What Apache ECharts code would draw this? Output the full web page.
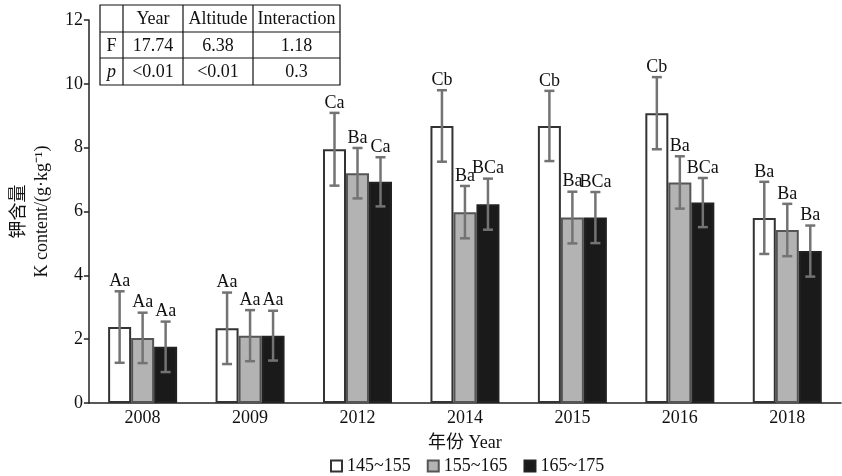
<!DOCTYPE html>
<html>
<head>
<meta charset="utf-8">
<script src="https://cdn.jsdelivr.net/npm/echarts@6/dist/echarts.min.js"></script>
<style>html,body{margin:0;padding:0;background:#fff}#c{width:842px;height:476px}</style>
</head>
<body>
<div id="c"></div>
<script>
var categories = ['2008','2009','2012','2014','2015','2016','2018'];
var seriesNames = ['145~155','155~165','165~175'];
var mean1 = [2.38, 2.34, 7.95, 8.68, 8.68, 9.08, 5.80];
var sd1   = [1.12, 1.12, 1.14, 1.12, 1.10, 1.13, 1.13];
var mean2 = [2.04, 2.11, 7.20, 5.98, 5.81, 6.91, 5.42];
var sd2   = [0.79, 0.80, 0.79, 0.82, 0.81, 0.82, 0.82];
var mean3 = [1.76, 2.11, 6.93, 6.23, 5.81, 6.28, 4.76];
var sd3   = [0.79, 0.78, 0.77, 0.80, 0.80, 0.77, 0.80];
var letters1 = ['Aa','Aa','Ca','Cb','Cb','Cb','Ba'];
var letters2 = ['Aa','Aa','Ba','Ba','Ba','Ba','Ba'];
var letters3 = ['Aa','Aa','Ca','BCa','BCa','BCa','Ba'];
var yTicks = [0, 2, 4, 6, 8, 10, 12];
var tableHeader = ['', 'Year', 'Altitude', 'Interaction'];
var tableF = ['F', '17.74', '6.38', '1.18'];
var tableP = ['p', '<0.01', '<0.01', '0.3'];

var SERIF = '"Liberation Serif","Times New Roman",serif';
var CJK = '"Noto Sans CJK SC",sans-serif';
var BW = 23;

var means = [mean1, mean2, mean3];
var sds = [sd1, sd2, sd3];
var letters = [letters1, letters2, letters3];
var fills = ['#ffffff', '#b3b3b3', '#1a1a1a'];
var borders = ['#333333', '#555555', '#222222'];

var series = [];
for (var k = 0; k < 3; k++) {
  series.push({
    name: seriesNames[k], type: 'bar', barWidth: BW, barGap: '0%',
    data: means[k],
    itemStyle: {color: fills[k], borderColor: borders[k], borderWidth: 2},
    emphasis: {disabled: true}
  });
}
for (var k2 = 0; k2 < 3; k2++) {
  (function (k) {
    var data = categories.map(function (c, i) { return [i, means[k][i], sds[k][i]]; });
    series.push({
      name: 'err' + k, type: 'custom', z: 10,
      data: data, encode: {x: 0, y: 1},
      renderItem: function (params, api) {
        var i = api.value(0), m = api.value(1), s = api.value(2);
        var off = (k - 1) * BW;
        var top = api.coord([i, m + s]);
        var bot = api.coord([i, m - s]);
        var x = top[0] + off;
        var cw = 5;
        var st = {stroke: '#737373', lineWidth: 2.5};
        return {type: 'group', children: [
          {type: 'line', shape: {x1: x, y1: top[1], x2: x, y2: bot[1]}, style: st},
          {type: 'line', shape: {x1: x - cw, y1: top[1], x2: x + cw, y2: top[1]}, style: st},
          {type: 'line', shape: {x1: x - cw, y1: bot[1], x2: x + cw, y2: bot[1]}, style: st},
          {type: 'text', x: x, y: top[1] - 1, style: {text: letters[k][params.dataIndex], fill: '#111', font: '18px ' + SERIF, align: 'center', verticalAlign: 'bottom'}}
        ]};
      }
    });
  })(k2);
}

// table graphic
var colX = [100, 123, 183, 253, 340];
var rowY = [5, 32, 58, 85];
var rows = [tableHeader, tableF, tableP];
var g = [];
g.push({type: 'rect', shape: {x: colX[0], y: rowY[0], width: colX[4] - colX[0], height: rowY[3] - rowY[0]}, style: {fill: '#fff', stroke: '#111', lineWidth: 1.2}, z: 100});
for (var c = 1; c < 4; c++) g.push({type: 'line', shape: {x1: colX[c], y1: rowY[0], x2: colX[c], y2: rowY[3]}, style: {stroke: '#111', lineWidth: 1.2}, z: 100});
for (var r = 1; r < 3; r++) g.push({type: 'line', shape: {x1: colX[0], y1: rowY[r], x2: colX[4], y2: rowY[r]}, style: {stroke: '#111', lineWidth: 1.2}, z: 100});
for (var rr = 0; rr < 3; rr++) {
  for (var cc = 0; cc < 4; cc++) {
    var t = rows[rr][cc];
    if (!t) continue;
    var italic = (rr === 2 && cc === 0);
    g.push({type: 'text', z: 101, x: (colX[cc] + colX[cc + 1]) / 2, y: (rowY[rr] + rowY[rr + 1]) / 2 + 1,
      style: {text: t, fill: '#111', font: (italic ? 'italic ' : '') + '18px ' + SERIF, align: 'center', verticalAlign: 'middle'}});
  }
}

var chart = echarts.init(document.getElementById('c'));
chart.setOption({
  animation: false,
  backgroundColor: '#fff',
  grid: {left: 85, right: 1, top: 20, bottom: 73, containLabel: false},
  legend: {
    data: seriesNames, top: 452, left: 325, itemWidth: 11, itemHeight: 11, itemGap: 16,
    textStyle: {fontFamily: SERIF, fontSize: 18, color: '#111'},
    icon: 'rect'
  },
  xAxis: {
    type: 'category', data: categories,
    name: '年份 Year', nameLocation: 'middle', nameGap: 31,
    nameTextStyle: {fontFamily: SERIF + ',' + CJK, fontSize: 18, color: '#111'},
    axisLine: {lineStyle: {color: '#222', width: 1.5}},
    axisTick: {inside: true, length: 6, lineStyle: {color: '#222', width: 1.5}},
    axisLabel: {fontFamily: SERIF, fontSize: 18, color: '#111', margin: 6}
  },
  yAxis: {
    type: 'value', min: yTicks[0], max: yTicks[yTicks.length - 1], interval: 2,
    name: '钾含量\nK content/(g·kg⁻¹)', nameLocation: 'middle', nameGap: 34, nameRotate: 90,
    nameTextStyle: {fontFamily: SERIF + ',' + CJK, fontSize: 18, color: '#111', lineHeight: 23},
    axisLine: {show: true, lineStyle: {color: '#222', width: 1.5}},
    axisTick: {show: true, length: 5, lineStyle: {color: '#222', width: 1.5}},
    axisLabel: {fontFamily: SERIF, fontSize: 18, color: '#111', margin: 6},
    splitLine: {show: false}
  },
  graphic: g,
  series: series
});
</script>
</body>
</html>
